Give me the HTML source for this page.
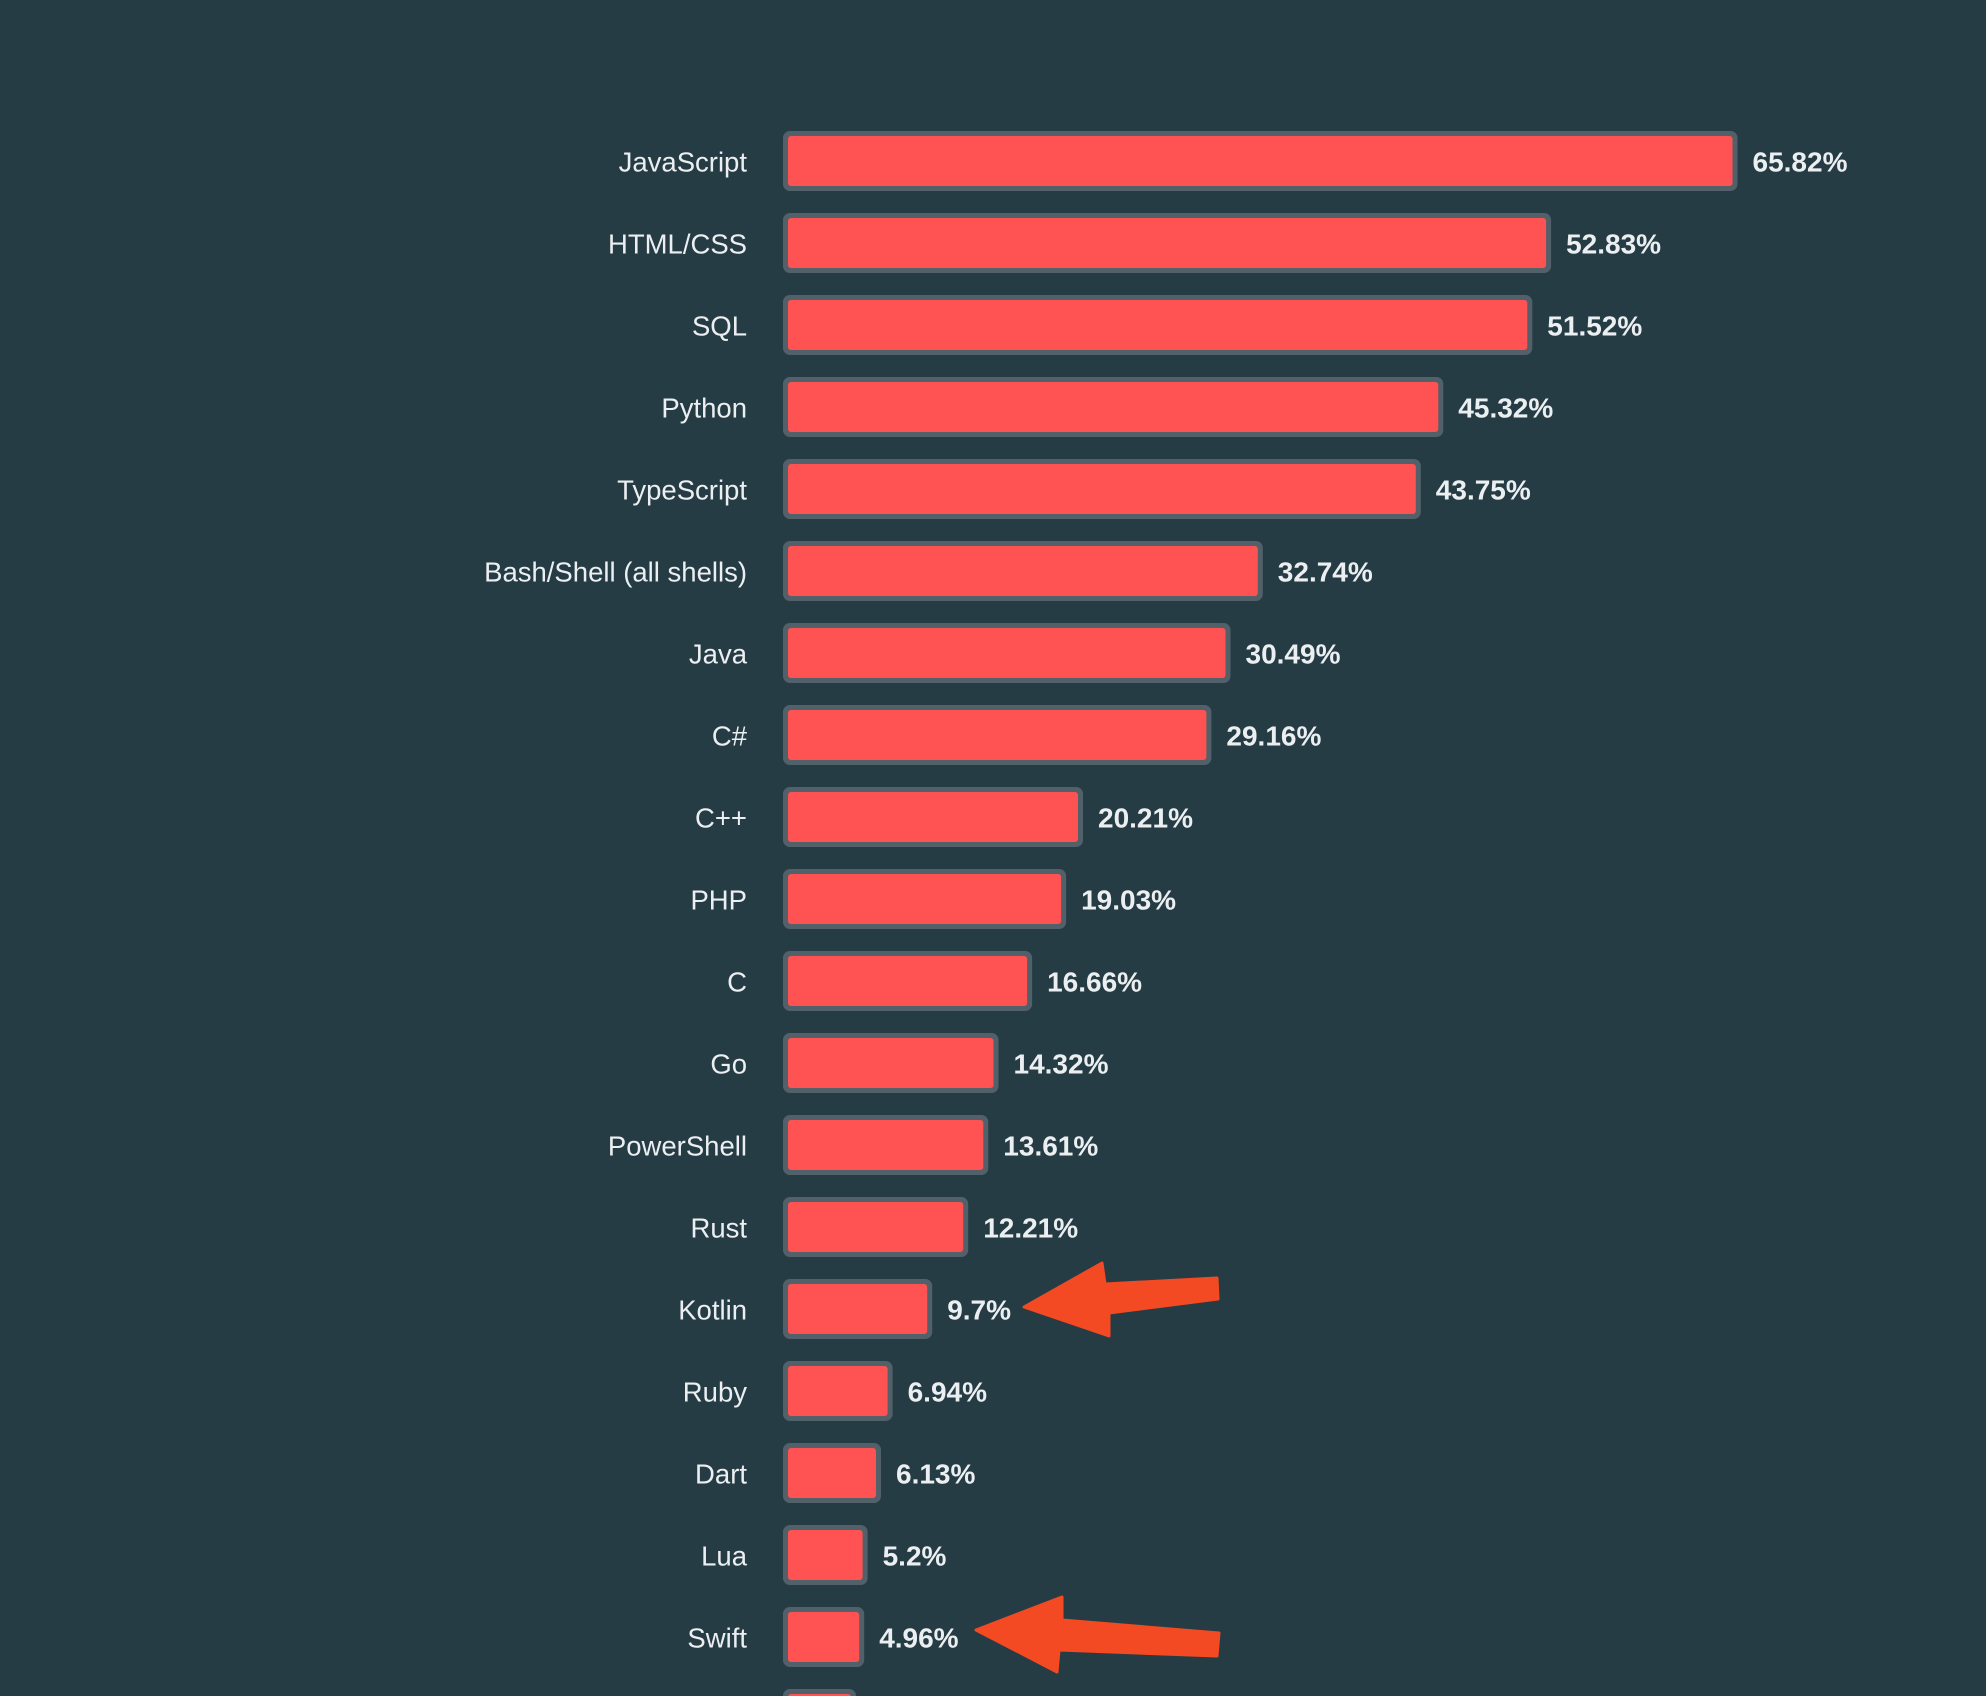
<!DOCTYPE html>
<html>
<head>
<meta charset="utf-8">
<style>
  html,body{margin:0;padding:0;background:#263c45;}
  svg{display:block;}
  .lab{font-family:"Liberation Sans",sans-serif;font-size:27.5px;fill:#eceff1;text-anchor:end;}
  .val{font-family:"Liberation Sans",sans-serif;font-size:28px;font-weight:bold;fill:#eceff1;}
</style>
</head>
<body>
<svg width="1986" height="1696" viewBox="0 0 1986 1696" xmlns="http://www.w3.org/2000/svg">
  <rect x="0" y="0" width="1986" height="1696" fill="#263c45"/>

  <g>
    <text class="lab" x="747" y="171.5">JavaScript</text>
    <rect x="783" y="131" width="954.5" height="60" rx="7" fill="#526169"/>
    <rect x="788" y="136" width="944.5" height="50" rx="3" fill="#ff5252"/>
    <text class="val" x="1752.5" y="171.5">65.82%</text>
  </g>
  <g>
    <text class="lab" x="747" y="253.5">HTML/CSS</text>
    <rect x="783" y="213" width="768.1" height="60" rx="7" fill="#526169"/>
    <rect x="788" y="218" width="758.1" height="50" rx="3" fill="#ff5252"/>
    <text class="val" x="1566.1" y="253.5">52.83%</text>
  </g>
  <g>
    <text class="lab" x="747" y="335.5">SQL</text>
    <rect x="783" y="295" width="749.3" height="60" rx="7" fill="#526169"/>
    <rect x="788" y="300" width="739.3" height="50" rx="3" fill="#ff5252"/>
    <text class="val" x="1547.3" y="335.5">51.52%</text>
  </g>
  <g>
    <text class="lab" x="747" y="417.5">Python</text>
    <rect x="783" y="377" width="660.3" height="60" rx="7" fill="#526169"/>
    <rect x="788" y="382" width="650.3" height="50" rx="3" fill="#ff5252"/>
    <text class="val" x="1458.3" y="417.5">45.32%</text>
  </g>
  <g>
    <text class="lab" x="747" y="499.5">TypeScript</text>
    <rect x="783" y="459" width="637.8" height="60" rx="7" fill="#526169"/>
    <rect x="788" y="464" width="627.8" height="50" rx="3" fill="#ff5252"/>
    <text class="val" x="1435.8" y="499.5">43.75%</text>
  </g>
  <g>
    <text class="lab" x="747" y="581.5">Bash/Shell (all shells)</text>
    <rect x="783" y="541" width="479.8" height="60" rx="7" fill="#526169"/>
    <rect x="788" y="546" width="469.8" height="50" rx="3" fill="#ff5252"/>
    <text class="val" x="1277.8" y="581.5">32.74%</text>
  </g>
  <g>
    <text class="lab" x="747" y="663.5">Java</text>
    <rect x="783" y="623" width="447.5" height="60" rx="7" fill="#526169"/>
    <rect x="788" y="628" width="437.5" height="50" rx="3" fill="#ff5252"/>
    <text class="val" x="1245.5" y="663.5">30.49%</text>
  </g>
  <g>
    <text class="lab" x="747" y="745.5">C#</text>
    <rect x="783" y="705" width="428.4" height="60" rx="7" fill="#526169"/>
    <rect x="788" y="710" width="418.4" height="50" rx="3" fill="#ff5252"/>
    <text class="val" x="1226.4" y="745.5">29.16%</text>
  </g>
  <g>
    <text class="lab" x="747" y="827.5">C++</text>
    <rect x="783" y="787" width="300.0" height="60" rx="7" fill="#526169"/>
    <rect x="788" y="792" width="290.0" height="50" rx="3" fill="#ff5252"/>
    <text class="val" x="1098.0" y="827.5">20.21%</text>
  </g>
  <g>
    <text class="lab" x="747" y="909.5">PHP</text>
    <rect x="783" y="869" width="283.1" height="60" rx="7" fill="#526169"/>
    <rect x="788" y="874" width="273.1" height="50" rx="3" fill="#ff5252"/>
    <text class="val" x="1081.1" y="909.5">19.03%</text>
  </g>
  <g>
    <text class="lab" x="747" y="991.5">C</text>
    <rect x="783" y="951" width="249.1" height="60" rx="7" fill="#526169"/>
    <rect x="788" y="956" width="239.1" height="50" rx="3" fill="#ff5252"/>
    <text class="val" x="1047.1" y="991.5">16.66%</text>
  </g>
  <g>
    <text class="lab" x="747" y="1073.5">Go</text>
    <rect x="783" y="1033" width="215.5" height="60" rx="7" fill="#526169"/>
    <rect x="788" y="1038" width="205.5" height="50" rx="3" fill="#ff5252"/>
    <text class="val" x="1013.5" y="1073.5">14.32%</text>
  </g>
  <g>
    <text class="lab" x="747" y="1155.5">PowerShell</text>
    <rect x="783" y="1115" width="205.3" height="60" rx="7" fill="#526169"/>
    <rect x="788" y="1120" width="195.3" height="50" rx="3" fill="#ff5252"/>
    <text class="val" x="1003.3" y="1155.5">13.61%</text>
  </g>
  <g>
    <text class="lab" x="747" y="1237.5">Rust</text>
    <rect x="783" y="1197" width="185.2" height="60" rx="7" fill="#526169"/>
    <rect x="788" y="1202" width="175.2" height="50" rx="3" fill="#ff5252"/>
    <text class="val" x="983.2" y="1237.5">12.21%</text>
  </g>
  <g>
    <text class="lab" x="747" y="1319.5">Kotlin</text>
    <rect x="783" y="1279" width="149.2" height="60" rx="7" fill="#526169"/>
    <rect x="788" y="1284" width="139.2" height="50" rx="3" fill="#ff5252"/>
    <text class="val" x="947.2" y="1319.5">9.7%</text>
  </g>
  <g>
    <text class="lab" x="747" y="1401.5">Ruby</text>
    <rect x="783" y="1361" width="109.6" height="60" rx="7" fill="#526169"/>
    <rect x="788" y="1366" width="99.6" height="50" rx="3" fill="#ff5252"/>
    <text class="val" x="907.6" y="1401.5">6.94%</text>
  </g>
  <g>
    <text class="lab" x="747" y="1483.5">Dart</text>
    <rect x="783" y="1443" width="98.0" height="60" rx="7" fill="#526169"/>
    <rect x="788" y="1448" width="88.0" height="50" rx="3" fill="#ff5252"/>
    <text class="val" x="896.0" y="1483.5">6.13%</text>
  </g>
  <g>
    <text class="lab" x="747" y="1565.5">Lua</text>
    <rect x="783" y="1525" width="84.6" height="60" rx="7" fill="#526169"/>
    <rect x="788" y="1530" width="74.6" height="50" rx="3" fill="#ff5252"/>
    <text class="val" x="882.6" y="1565.5">5.2%</text>
  </g>
  <g>
    <text class="lab" x="747" y="1647.5">Swift</text>
    <rect x="783" y="1607" width="81.2" height="60" rx="7" fill="#526169"/>
    <rect x="788" y="1612" width="71.2" height="50" rx="3" fill="#ff5252"/>
    <text class="val" x="879.2" y="1647.5">4.96%</text>
  </g>
  <g>
    <rect x="783" y="1689" width="73" height="60" rx="7" fill="#526169"/>
    <rect x="788" y="1694" width="63" height="50" rx="3" fill="#ff5252"/>
  </g>

  <polygon points="1024,1307 1102,1263 1105,1284 1217,1278 1218,1299 1109,1313 1109,1336"
           fill="#f34a23" stroke="#f34a23" stroke-width="3" stroke-linejoin="round"/>
  <polygon points="976,1630 1062,1597 1062,1620 1219,1633 1217,1656 1059,1650 1057,1672"
           fill="#f34a23" stroke="#f34a23" stroke-width="3" stroke-linejoin="round"/>
</svg>
</body>
</html>
